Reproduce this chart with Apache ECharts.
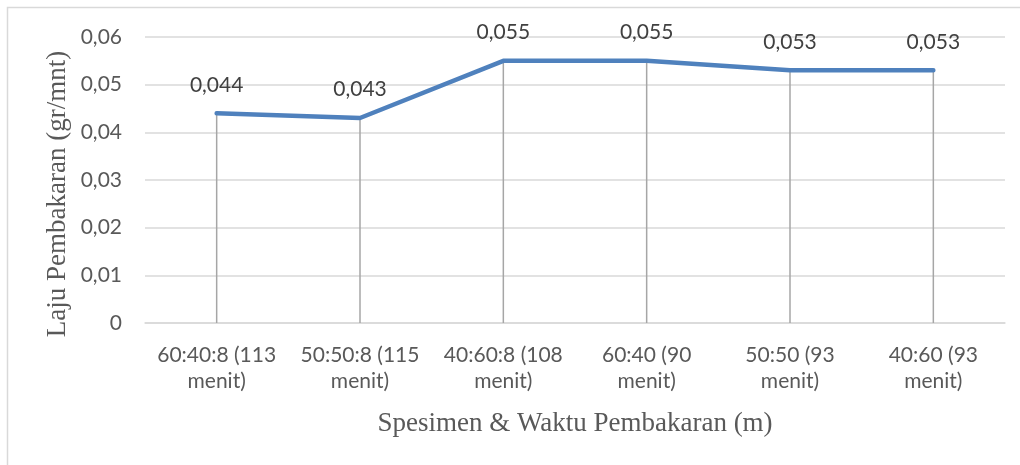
<!DOCTYPE html>
<html>
<head>
<meta charset="utf-8">
<script src="https://cdn.jsdelivr.net/npm/echarts@6/dist/echarts.min.js"></script>
<style>
  html, body { margin: 0; padding: 0; background: #fff; }
  #chart { width: 1020px; height: 465px; }
</style>
</head>
<body>
<div id="chart"></div>
<script>
// Burning rate per specimen composition
const categories = [
  '60:40:8 (113\nmenit)',
  '50:50:8 (115\nmenit)',
  '40:60:8 (108\nmenit)',
  '60:40 (90\nmenit)',
  '50:50 (93\nmenit)',
  '40:60 (93\nmenit)'
];
const lajuPembakaran = [0.044, 0.043, 0.055, 0.055, 0.053, 0.053];
const yTicks = [0, 0.01, 0.02, 0.03, 0.04, 0.05, 0.06];

const fmtComma = v => (v === 0 ? '0' : String(v).replace('.', ','));
const sans = 'Lato, "Open Sans", "Liberation Sans", sans-serif';
const serif = '"Liberation Serif", "DejaVu Serif", serif';

const chart = echarts.init(document.getElementById('chart'), null, { renderer: 'canvas' });
chart.setOption({
  animation: false,
  backgroundColor: '#fff',
  grid: { left: 145, right: 15, top: 37, bottom: 142 },
  graphic: [
    {
      type: 'polyline',
      shape: { points: [[7.5, 465], [7.5, 7.5], [1020, 7.5]] },
      style: { stroke: '#D9D9D9', lineWidth: 1.5, fill: null },
      silent: true
    },
    {
      type: 'text',
      x: 58,
      y: 194,
      rotation: Math.PI / 2,
      style: {
        text: 'Laju Pembakaran (gr/mnt)',
        fill: '#595959',
        font: '27px ' + serif,
        align: 'center',
        verticalAlign: 'middle'
      },
      silent: true
    }
  ],
  xAxis: {
    type: 'category',
    data: categories,
    boundaryGap: true,
    axisLine: { show: true, lineStyle: { color: '#D9D9D9', width: 1.5 } },
    axisTick: { show: false },
    axisLabel: {
      interval: 0,
      color: '#595959',
      fontFamily: sans,
      fontSize: 21,
      lineHeight: 26,
      margin: 19
    },
    name: 'Spesimen & Waktu Pembakaran (m)',
    nameLocation: 'middle',
    nameGap: 87,
    nameTextStyle: { color: '#595959', fontFamily: serif, fontSize: 27 }
  },
  yAxis: {
    type: 'value',
    min: yTicks[0],
    max: yTicks[yTicks.length - 1],
    interval: 0.01,
    axisLine: { show: false },
    axisTick: { show: false },
    splitLine: { lineStyle: { color: '#D9D9D9', width: 1.5 } },
    axisLabel: {
      color: '#595959',
      fontFamily: sans,
      fontSize: 21,
      margin: 23,
      formatter: v => fmtComma(Math.round(v * 100) / 100)
    }
  },
  series: [
    {
      // vertical drop lines from each point to the axis
      type: 'bar',
      data: lajuPembakaran,
      barWidth: 1.5,
      itemStyle: { color: '#A6A6A6' },
      silent: true,
      z: 1
    },
    {
      type: 'line',
      data: lajuPembakaran,
      symbol: 'circle',
      symbolSize: 2,
      showSymbol: true,
      itemStyle: { color: '#4F81BD' },
      lineStyle: { color: '#4F81BD', width: 4.5, cap: 'round', join: 'round' },
      label: {
        show: true,
        position: 'top',
        distance: 17,
        color: '#404040',
        fontFamily: sans,
        fontSize: 21,
        formatter: p => fmtComma(p.value)
      },
      z: 3
    }
  ]
});
</script>
</body>
</html>
